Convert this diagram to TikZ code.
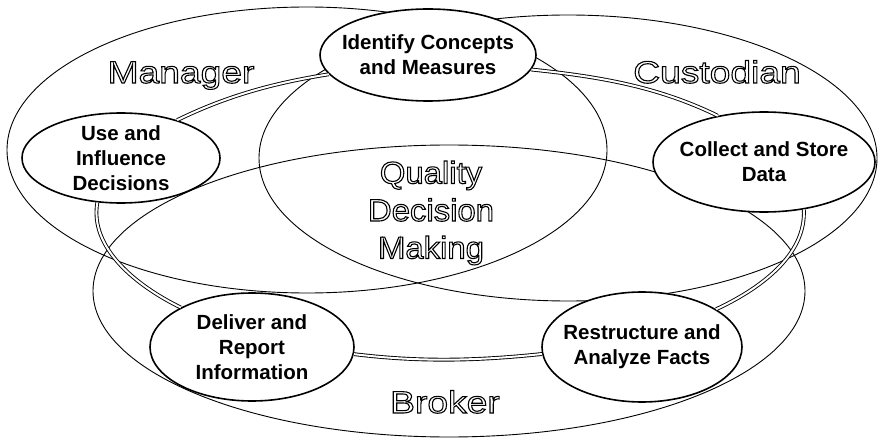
\documentclass[tikz,border=0pt]{standalone}
\usepackage{fontspec}
\setmainfont{Liberation Sans}
\newfontfamily\hollowfont[FakeStretch=1.2]{Liberation Sans}
\newfontfamily\centrefont[FakeStretch=1.06]{Liberation Sans}
\usetikzlibrary{shapes.geometric}
\newcommand{\hollow}[1]{\special{pdf:literal direct 1 Tr 1.1 w}#1\special{pdf:literal direct 0 Tr}}

\begin{document}
\begin{tikzpicture}[x=1pt,y=1pt]
\tikzset{role/.style = {shape=ellipse,draw,line width=0.9pt,inner sep=0pt}}
\tikzset{rolename/.style = {font=\hollowfont\fontsize{31}{38}\selectfont}}
\tikzset{task/.style = {shape=ellipse,draw,line width=1.6pt,fill=white,inner sep=-20pt,align=center,font=\bfseries\fontsize{20.5}{25}\selectfont}}
\tikzset{link/.style = {draw,double,line width=0.9pt,double distance=2pt,looseness=0.9}}
\useasboundingbox (0,0) rectangle (879,440);
% roles
\node[role,minimum width=600,minimum height=286] (manager) at (307,290) {};
\node[role,minimum width=618,minimum height=286] (custodian) at (568,282) {};
\node[role,minimum width=712,minimum height=292] (broker) at (449,149) {};
% labels
\node[rolename,anchor=base] (managername) at (181,357) {\hollow{Manager}};
\node[rolename,anchor=base] (custodianname) at (717,357) {\hollow{Custodian}};
\node[rolename,anchor=base] (brokername) at (445,27) {\hollow{Broker}};
\node[font=\centrefont\fontsize{31}{37.5}\selectfont,align=center] (quality) at (431,227)
  {\hollow{Quality}\\\hollow{Decision}\\\hollow{Making}};
% tasks
\node[task,minimum width=216,minimum height=92] (identify) at (428,385) {Identify Concepts\\and Measures};
\node[task,minimum width=198,minimum height=90] (use) at (121,282) {Use and\\Influence\\Decisions};
\node[task,minimum width=222,minimum height=100] (collect) at (764,278) {Collect and Store\\Data};
\node[task,minimum width=204,minimum height=108] (deliver) at (252,93) {Deliver and\\Report\\Information};
\node[task,minimum width=200,minimum height=110] (restr) at (642,93) {Restructure and\\Analyze Facts};
% cycle
\draw[link] (use.34) to[out=26,in=189] (identify.191);
\draw[link] (identify.352) to[out=-6,in=154] (collect.135);
\draw[link] (collect.310) to[out=-87,in=25] (restr.27);
\draw[link] (restr.184) to[out=186,in=-7] (deliver.356);
\draw[link] (deliver.151) to[out=154,in=260] (use.242);
\end{tikzpicture}
\end{document}
